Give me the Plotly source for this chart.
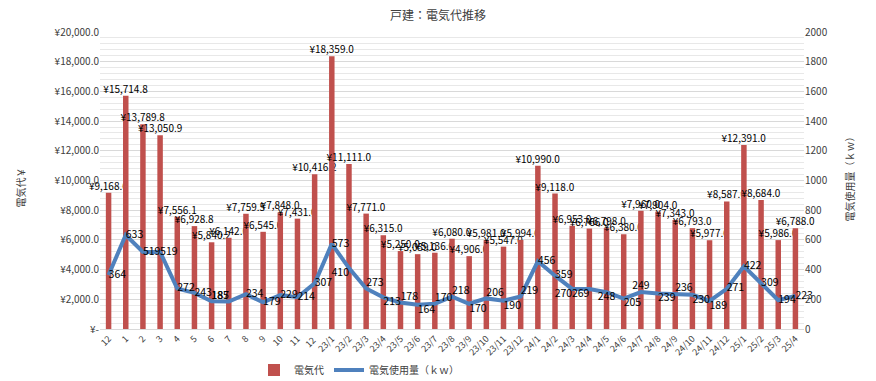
import plotly.graph_objects as go

categories = ["12", "1", "2", "3", "4", "5", "6", "7", "8", "9", "10", "11", "12 ",
              "23/1", "23/2", "23/3", "23/4", "23/5", "23/6", "23/7", "23/8", "23/9",
              "23/10", "23/11", "23/12", "24/1", "24/2", "24/3", "24/4", "24/5", "24/6",
              "24/7", "24/8", "24/9", "24/10", "24/11", "24/12", "25/1", "25/2", "25/3", "25/4"]

cost_yen = [9168.6, 15714.8, 13789.8, 13050.9, 7556.1, 6928.8, 5840.2, 6142.0, 7759.5,
            6545.0, 7848.0, 7431.0, 10416.2, 18359.0, 11111.0, 7771.0, 6315.0, 5250.0,
            5039.0, 5136.0, 6080.0, 4906.0, 5981.0, 5547.0, 5994.0, 10990.0, 9118.0,
            6953.0, 6766.0, 6798.0, 6380.0, 7960.0, 7904.0, 7343.0, 6793.0, 5977.0,
            8587.0, 12391.0, 8684.0, 5986.0, 6788.0]

usage_kw = [364, 633, 519, 519, 272, 243, 187, 185, 234, 179, 229, 214, 307, 573, 410,
            273, 213, 178, 164, 170, 218, 170, 206, 190, 219, 456, 359, 270, 269, 248,
            205, 249, 239, 236, 230, 189, 271, 422, 309, 194, 223]

left_tickvals = [0, 2000, 4000, 6000, 8000, 10000, 12000, 14000, 16000, 18000, 20000]
left_ticktext = ["¥-", "¥2,000.0", "¥4,000.0", "¥6,000.0", "¥8,000.0", "¥10,000.0",
                 "¥12,000.0", "¥14,000.0", "¥16,000.0", "¥18,000.0", "¥20,000.0"]
right_tickvals = [0, 200, 400, 600, 800, 1000, 1200, 1400, 1600, 1800, 2000]

# label placement for the usage line (style only)
usage_pos = ["middle right"] * len(usage_kw)
for i, p in {6: "top right", 7: "top left", 14: "bottom left", 15: "top right",
             16: "bottom right", 17: "top right", 18: "bottom right", 19: "top right",
             20: "top right", 21: "bottom right", 22: "top right", 23: "bottom right",
             24: "top right", 27: "bottom left", 28: "bottom left", 29: "bottom center",
             30: "bottom right", 31: "top center", 32: "bottom right", 33: "top right",
             34: "bottom right", 35: "bottom right"}.items():
    usage_pos[i] = p

FONT = "Noto Sans CJK JP"
BAR_COLOR = "#C0504D"
LINE_COLOR = "#4F81BD"
# page has an 8px body margin; compensate so the plot area sits at x 100..804, y 32..329
OFF = 8
FW, FH = 876 - OFF, 381 - OFF
L, R, T, B = 100 - OFF, 72, 32 - OFF, 52
PW, PH = FW - L - R, FH - T - B

fig = go.Figure()
fig.add_trace(go.Bar(
    x=categories, y=cost_yen, name="電気代",
    marker=dict(color=BAR_COLOR, line=dict(width=0)),
    text=[f"¥{v:,.1f}" for v in cost_yen],
    textposition="outside", textangle=0, constraintext="none", cliponaxis=False,
    textfont=dict(family=FONT, size=10, color="#000000"),
))
fig.add_trace(go.Scatter(
    x=categories, y=usage_kw, name="電気使用量（ｋｗ）", yaxis="y2",
    mode="lines+text", line=dict(color=LINE_COLOR, width=4),
    text=[str(v) for v in usage_kw], textposition=usage_pos, cliponaxis=False,
    textfont=dict(family=FONT, size=10.5, color="#000000"),
))

fig.update_layout(
    width=FW, height=FH,
    margin=dict(l=L, r=R, t=T, b=B, autoexpand=False),
    paper_bgcolor="white", plot_bgcolor="white",
    font=dict(family=FONT, size=10, color="#404040"),
    title=dict(text="戸建：電気代推移", x=(438 - OFF) / FW, xref="container",
               xanchor="center", y=1 - (16 - OFF) / FH, yref="container",
               yanchor="middle", automargin=False,
               font=dict(family=FONT, size=12, color="#404040")),
    bargap=0.68,
    showlegend=True,
    legend=dict(orientation="h", x=(254 - 100) / PW, xanchor="left",
                y=(329 - 370) / PH, yanchor="middle",
                font=dict(family=FONT, size=10, color="#404040"),
                itemwidth=30, tracegroupgap=0, bgcolor="rgba(0,0,0,0)"),
    xaxis=dict(type="category", range=[-0.5, len(categories) - 0.5], tickangle=-45,
               showgrid=False, automargin=False,
               tickfont=dict(family=FONT, size=9, color="#404040"),
               showline=True, linecolor="#D9D9D9", ticks=""),
    yaxis=dict(range=[0, 20000], tickvals=left_tickvals, ticktext=left_ticktext,
               automargin=False,
               showgrid=True, gridcolor="#D9D9D9", gridwidth=1, zeroline=False,
               tickfont=dict(family=FONT, size=10, color="#404040"),
               minor=dict(dtick=400, showgrid=True, gridcolor="#E8E8E8", gridwidth=1)),
    yaxis2=dict(range=[0, 2000], tickvals=right_tickvals, overlaying="y", side="right",
                showgrid=False, zeroline=False, automargin=False,
                tickfont=dict(family=FONT, size=10, color="#404040")),
)
fig.add_annotation(text="電気代￥", textangle=-90, x=(10 - 100) / PW, xref="paper",
                   y=(329 - 188) / PH, yref="paper", showarrow=False,
                   font=dict(family=FONT, size=10, color="#404040"))
fig.add_annotation(text="電気使用量（ｋｗ）", textangle=-90, x=(858 - 100) / PW,
                   xref="paper", y=(329 - 177) / PH, yref="paper", showarrow=False,
                   font=dict(family=FONT, size=10, color="#404040"))

fig.write_html("out.html")
